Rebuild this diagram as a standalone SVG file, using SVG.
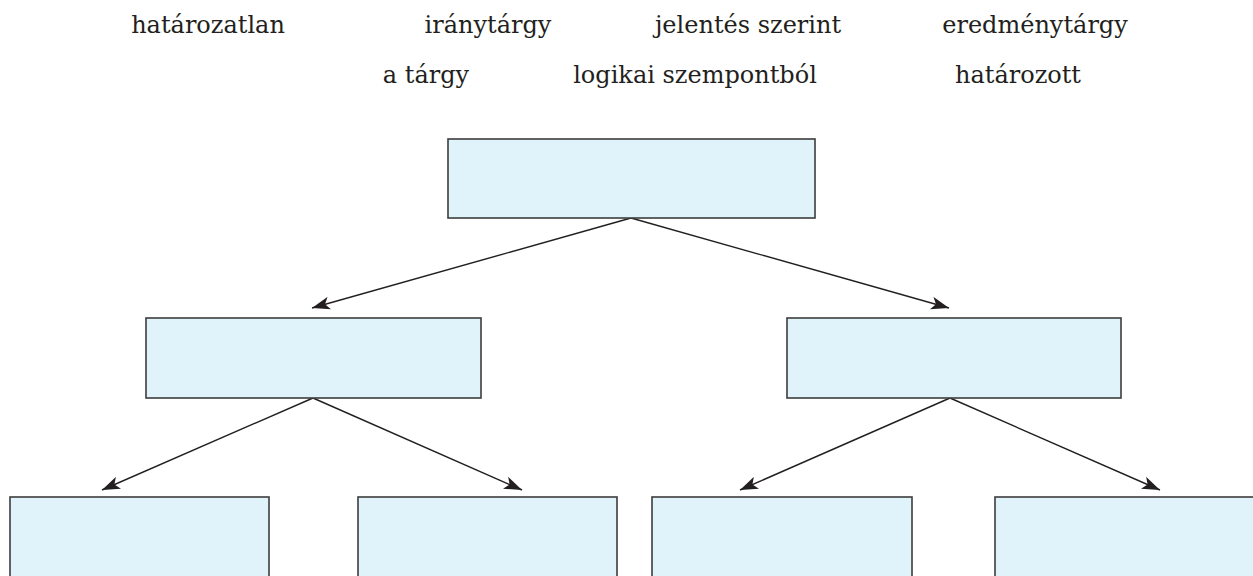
<svg xmlns="http://www.w3.org/2000/svg" width="1253" height="576" viewBox="0 0 1253 576">
<style>
.lbl{font-family:"DejaVu Serif","Liberation Serif",serif;font-size:24px;fill:#231f20;text-anchor:middle}
.box{fill:#e0f3fa;stroke:#3c3c3c;stroke-width:1.6}
.con{stroke:#231f20;stroke-width:1.4;fill:none;marker-end:url(#ah)}
</style>
<defs>
<marker id="ah" markerUnits="userSpaceOnUse" markerWidth="19" markerHeight="13" refX="18" refY="6.5" orient="auto" viewBox="0 0 19 13">
<path d="M0,0 L18,6.5 L0,13 L4.5,6.5 Z" fill="#231f20"/>
</marker>
</defs>
<g id="labels">
<text class="lbl" x="208" y="33">határozatlan</text>
<text class="lbl" x="488" y="33">iránytárgy</text>
<text class="lbl" x="748" y="33">jelentés szerint</text>
<text class="lbl" x="1035" y="33">eredménytárgy</text>
<text class="lbl" x="426" y="83">a tárgy</text>
<text class="lbl" x="695" y="83">logikai szempontból</text>
<text class="lbl" x="1018" y="83">határozott</text>
</g>
<g id="connectors">
<line class="con" x1="631" y1="218" x2="312" y2="308"/>
<line class="con" x1="631" y1="218" x2="949" y2="308"/>
<line class="con" x1="313" y1="398" x2="102" y2="490"/>
<line class="con" x1="313" y1="398" x2="522" y2="490"/>
<line class="con" x1="950" y1="398" x2="740" y2="490"/>
<line class="con" x1="950" y1="398" x2="1160" y2="490"/>
</g>
<g id="node-root"><rect class="box" x="448" y="139" width="367" height="79"/></g>
<g id="node-left"><rect class="box" x="146" y="318" width="335" height="80"/></g>
<g id="node-right"><rect class="box" x="787" y="318" width="334" height="80"/></g>
<g id="node-ll"><rect class="box" x="10" y="497" width="259" height="90"/></g>
<g id="node-lr"><rect class="box" x="358" y="497" width="259" height="90"/></g>
<g id="node-rl"><rect class="box" x="652" y="497" width="260" height="90"/></g>
<g id="node-rr"><rect class="box" x="995" y="497" width="270" height="90"/></g>
</svg>
